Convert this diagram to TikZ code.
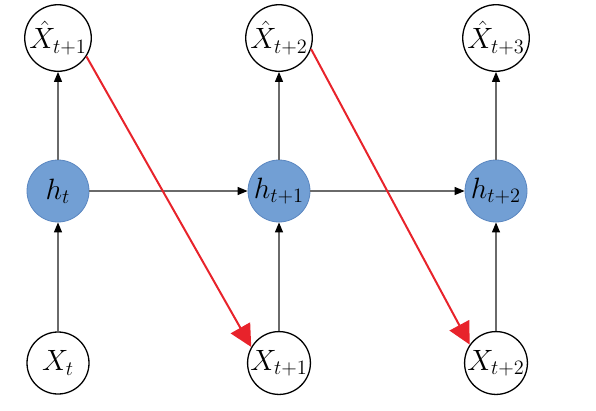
\documentclass[tikz,border=0pt]{standalone}
\usepackage{graphicx}
\usetikzlibrary{arrows.meta}
\definecolor{hblue}{HTML}{729FD4}
\definecolor{hborder}{HTML}{5A86C0}
\definecolor{predred}{HTML}{E8232B}
\definecolor{conngray}{HTML}{6A6A6A}
\newcommand{\mylab}[1]{\scalebox{1.7}{$#1$}}
\begin{document}
\begin{tikzpicture}[x=1pt,y=-1pt,
  obs/.style={circle,draw=black,line width=1.3pt,minimum size=62pt,inner sep=0pt,fill=white,
    font=\fontsize{17}{20}\selectfont},
  hid/.style={circle,draw=hborder,line width=0.8pt,fill=hblue,minimum size=62pt,inner sep=0pt,
    font=\fontsize{17}{20}\selectfont},
  conn/.style={draw=conngray,line width=1.2pt,-{Triangle[length=10pt,width=8pt,color=black]}},
  pred/.style={draw=predred,line width=2pt,-{Triangle[length=22pt,width=22pt]}}]
\useasboundingbox (0,0) rectangle (596,410);
% top row
\node[obs] (xh1) at (58,38) {\mylab{\hat{X}_{t+1}}};
\node[obs] (xh2) at (279,38) {\mylab{\hat{X}_{t+2}}};
\node[obs] (xh3) at (496,38) {\mylab{\hat{X}_{t+3}}};
% hidden row
\node[hid] (h1) at (58,191) {\mylab{h_{t}}};
\node[hid] (h2) at (279,191) {\mylab{h_{t+1}}};
\node[hid] (h3) at (496,191) {\mylab{h_{t+2}}};
% bottom row
\node[obs] (x1) at (58,363) {\mylab{X_{t}}};
\node[obs] (x2) at (279,363) {\mylab{X_{t+1}}};
\node[obs] (x3) at (496,363) {\mylab{X_{t+2}}};
% connectors
\draw[conn] (x1) -- (h1);
\draw[conn] (x2) -- (h2);
\draw[conn] (x3) -- (h3);
\draw[conn] (h1) -- (xh1);
\draw[conn] (h2) -- (xh2);
\draw[conn] (h3) -- (xh3);
\draw[conn] (h1) -- (h2);
\draw[conn] (h2) -- (h3);
% prediction arrows
\draw[pred] (xh1.-33) -- (x2.150);
\draw[pred] (xh2.-19) -- (x3.145);
\end{tikzpicture}
\end{document}
